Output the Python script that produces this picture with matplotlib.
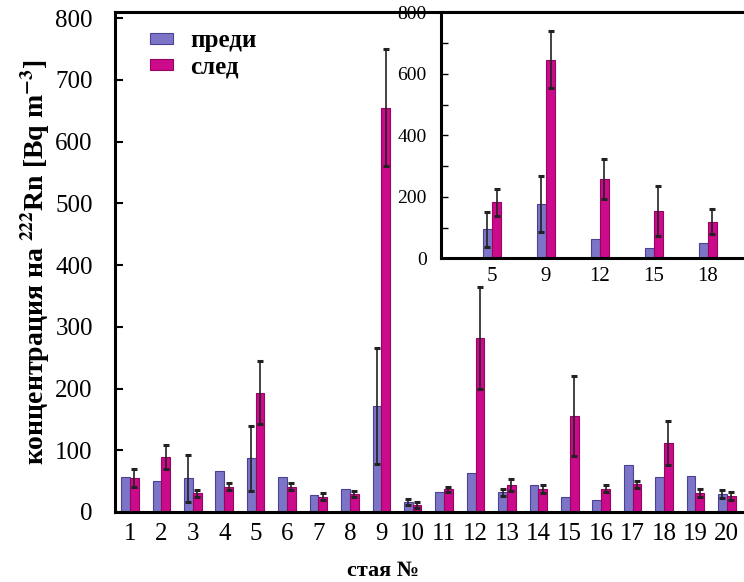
import numpy as np
import matplotlib
matplotlib.use('Agg')
import matplotlib.pyplot as plt

plt.rcParams['font.family'] = ['Liberation Serif', 'DejaVu Serif']
plt.rcParams['mathtext.fontset'] = 'stix'
plt.rcParams['mathtext.default'] = 'bf'

#data
stations = [str(i) for i in range(1, 21)]
before = [57, 50, 55, 67, 87, 57, 27, 38, 172, 16, 32, 63, 32, 44, 24, 19, 76, 57, 58, 29]
before_err = [0, 0, 38, 0, 53, 0, 0, 0, 94, 5, 0, 0, 6, 0, 0, 0, 0, 0, 0, 7]
after = [55, 89, 30, 41, 193, 41, 25, 29, 655, 12, 37, 282, 44, 37, 156, 38, 45, 112, 31, 26]
after_err = [14, 20, 6, 6, 51, 6, 5, 5, 95, 5, 4, 82, 10, 6, 65, 6, 6, 36, 7, 7]

#inset data
ins_stations = ['5', '9', '12', '15', '18']
ins_before = [94, 177, 62, 35, 50]
ins_before_err = [57, 90, 0, 0, 0]
ins_after = [182, 646, 258, 154, 119]
ins_after_err = [43, 92, 65, 80, 40]

c_before = '#7c74c6'
c_after = '#cc0a8c'
e_before = '#4b4296'
e_after = '#94065f'

fig = plt.figure(figsize=(7.44, 5.82), dpi=100)

def draw(ax, b, be, a, ae, w, cap):
    x = np.arange(len(b))
    ax.bar(x - w/2, b, w, color=c_before, edgecolor=e_before, linewidth=0.8, zorder=2)
    ax.bar(x + w/2, a, w, color=c_after, edgecolor=e_after, linewidth=0.8, zorder=2)
    be = np.array(be, dtype=float)
    m = be > 0
    ax.errorbar((x - w/2)[m], np.array(b)[m], yerr=be[m], fmt='none', ecolor='#222222',
                elinewidth=1.2, capsize=cap, capthick=2.2, zorder=3)
    ax.errorbar(x + w/2, a, yerr=ae, fmt='none', ecolor='#222222',
                elinewidth=1.2, capsize=cap, capthick=2.2, zorder=3)
    return x

#main chart
ax = fig.add_axes([115/744, 70/582, 629/744, 500/582])
x = draw(ax, before, before_err, after, after_err, 0.28, 2)
ax.set_xlim(-0.48, 19.55)
ax.set_ylim(0, 810)
ax.set_yticks(np.arange(0, 801, 100))
ax.set_xticks(x)
ax.set_xticklabels(stations)
ax.tick_params(axis='y', direction='in', length=6, width=1.5, labelsize=18, pad=16)
ax.tick_params(axis='x', length=0, labelsize=18, pad=8)
for s in ['left', 'bottom', 'top']:
    ax.spines[s].set_linewidth(2.2)
ax.spines['right'].set_visible(False)
ax.set_ylabel('концентрация на $^{222}$Rn [Bq m$^{-3}$]', fontsize=20, fontweight='bold', labelpad=2)
fig.text(383/744, 0.002, 'стая №', fontsize=16, fontweight='bold', ha='center', va='bottom')

ax.legend(['преди', 'след'], loc='upper left', bbox_to_anchor=(0.02, 1.01), frameon=False,
          prop={'size': 18, 'weight': 'bold'}, handlelength=0.9, handleheight=0.3,
          handletextpad=0.7, labelspacing=0.1)

#inset
ins = fig.add_axes([440.7/744, (582-258.3)/582, 303.3/744, 246/582], zorder=5)
ins.set_facecolor('white')
xi = draw(ins, ins_before, ins_before_err, ins_after, ins_after_err, 0.17, 2)
ins.set_xlim(-0.95, 4.67)
ins.set_ylim(0, 800)
ins.set_yticks(np.arange(0, 801, 200))
ins.set_yticks(np.arange(100, 800, 200), minor=True)
ins.set_xticks(xi)
ins.set_xticklabels(ins_stations)
ins.tick_params(axis='y', which='major', direction='in', length=5, width=1, labelsize=14, pad=10)
ins.tick_params(axis='y', which='minor', direction='in', length=5, width=1)
ins.tick_params(axis='x', length=0, labelsize=15, pad=6)
for s in ['left', 'bottom', 'top']:
    ins.spines[s].set_linewidth(2.2)
ins.spines['right'].set_visible(False)

plt.savefig('out.png', dpi=100)
